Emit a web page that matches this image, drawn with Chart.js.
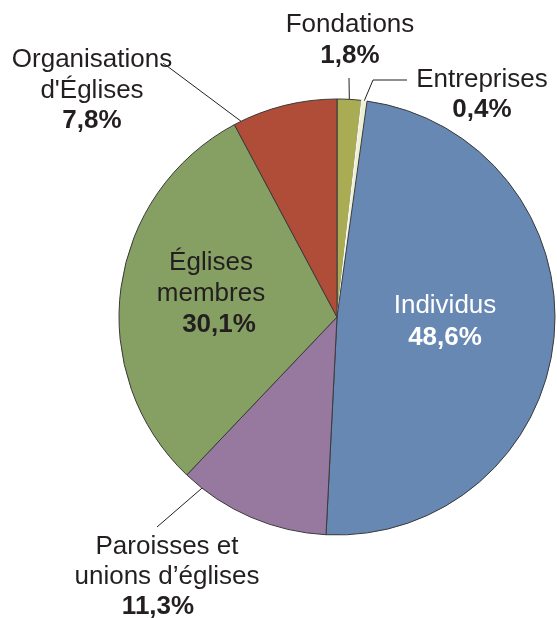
<!DOCTYPE html>
<html>
<head>
<meta charset="utf-8">
<script src="https://cdn.jsdelivr.net/npm/chart.js@4/dist/chart.umd.min.js"></script>
<style>
  html, body { margin: 0; padding: 0; background: #ffffff; }
  #wrap { position: relative; width: 557px; height: 618px; }
</style>
</head>
<body>
<div id="wrap"><canvas id="c" width="557" height="618"></canvas></div>
<script>
// ---- Data ----
const categories = ['Fondations', 'Entreprises', 'Individus', 'Paroisses et\nunions d’églises', 'Églises\nmembres', "Organisations\nd'Églises"];
const shares = [1.8, 0.4, 48.6, 11.3, 30.1, 7.8];
const sliceColors = ['#a9ac52', '#eef0d2', '#6688b3', '#97789f', '#869f62', '#b04d38'];

// ---- Label layout (relative to pie centre) ----
const labelLayout = [
  { x: 13, y: -285, lh: 31, color: '#231f20', leader: { frac: 0.5, pts: [[12, -239]] } },
  { x: 145, y: -230, lh: 30, color: '#231f20', leader: { frac: 0.5, pts: [[36, -237], [70, -237]] } },
  { x: 108, y: -4, lh: 32, color: '#ffffff', pctDx: 0 },
  { x: -170, y: 237, lh: 30, color: '#231f20', pctDx: -9, leader: { frac: 0.87, pts: [[-180, 210]] } },
  { x: -126, y: -47, lh: 31, color: '#231f20', pctDx: 8 },
  { x: -245, y: -250, lh: 30.5, color: '#231f20', leader: { frac: 0.07, pts: [[-174, -254]] } }
];

const FONT = '"Liberation Sans", Arial, Helvetica, sans-serif';
const FONT_SIZE = 26;

function fmtPct(v) { return v.toFixed(1).replace('.', ',') + '%'; }

const labelPlugin = {
  id: 'pieLabels',
  afterDatasetsDraw(chart) {
    const ctx = chart.ctx;
    const meta = chart.getDatasetMeta(0);
    meta.data.forEach((arc, i) => {
      const p = arc.getProps(['x', 'y', 'startAngle', 'endAngle', 'outerRadius'], true);
      const L = labelLayout[i];
      const cx = p.x, cy = p.y;
      ctx.save();
      if (L.leader) {
        const a = p.startAngle + (p.endAngle - p.startAngle) * L.leader.frac;
        ctx.beginPath();
        ctx.moveTo(cx + Math.cos(a) * p.outerRadius, cy + Math.sin(a) * p.outerRadius);
        L.leader.pts.forEach(pt => ctx.lineTo(cx + pt[0], cy + pt[1]));
        ctx.strokeStyle = '#231f20';
        ctx.lineWidth = 1;
        ctx.stroke();
      }
      ctx.fillStyle = L.color;
      ctx.textAlign = 'center';
      ctx.textBaseline = 'alphabetic';
      const lines = categories[i].split('\n');
      let y = cy + L.y;
      ctx.font = FONT_SIZE + 'px ' + FONT;
      lines.forEach(t => { ctx.fillText(t, cx + L.x, y); y += L.lh; });
      ctx.font = 'bold ' + FONT_SIZE + 'px ' + FONT;
      ctx.fillText(fmtPct(shares[i]), cx + L.x + (L.pctDx || 0), y);
      ctx.restore();
    });
  }
};

new Chart(document.getElementById('c'), {
  type: 'pie',
  data: {
    labels: categories,
    datasets: [{
      data: shares,
      backgroundColor: sliceColors,
      borderColor: ['#3a3a3a', '#ffffff', '#3a3a3a', '#3a3a3a', '#3a3a3a', '#3a3a3a'],
      borderWidth: 1,
      radius: 218
    }]
  },
  options: {
    responsive: false,
    animation: false,
    rotation: 0,
    layout: { padding: { left: 119, right: 2, top: 99, bottom: 83 } },
    plugins: { legend: { display: false }, tooltip: { enabled: false } }
  },
  plugins: [labelPlugin]
});
</script>
</body>
</html>
